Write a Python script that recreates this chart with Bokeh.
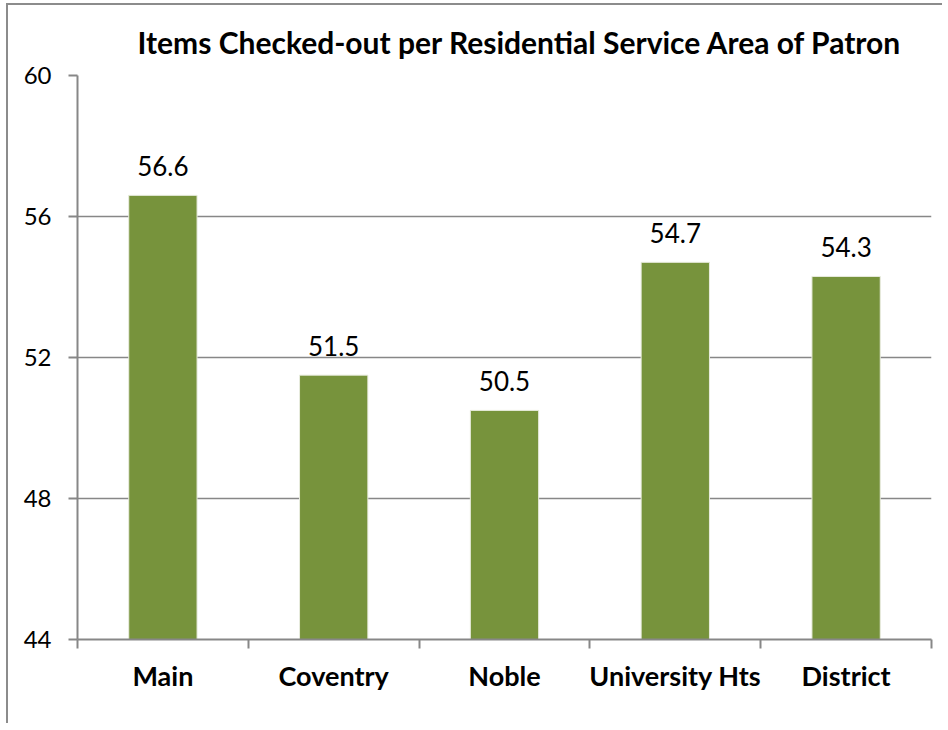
from bokeh.plotting import figure
from bokeh.models import FixedTicker, ColumnDataSource, LabelSet
from bokeh.core.properties import value
from bokeh.embed import file_html
from bokeh.resources import INLINE

categories = ["Main", "Coventry", "Noble", "University Hts", "District"]
values = [56.6, 51.5, 50.5, 54.7, 54.3]
y_ticks = [44, 48, 52, 56, 60]
title_text = "Items Checked-out per Residential Service Area of Patron"

FONT = "Lato"
GRID = "#878787"
BAR = "#77933C"

n = len(categories)
xs = [i + 0.5 for i in range(n)]
y_min, y_max = y_ticks[0], y_ticks[-1]
src = ColumnDataSource(dict(x=xs, top=values, lab=[f"{v:.1f}" for v in values]))

p = figure(width=936, height=720, x_range=(0, n), y_range=(y_min, y_max),
           output_backend="svg", toolbar_location=None,
           min_border_left=69, min_border_right=13, min_border_top=70, min_border_bottom=86)

p.title.text = title_text
p.title.text_font = FONT
p.title.text_font_style = "bold"
p.title.text_font_size = "30px"
p.title.align = "left"
p.title.text_color = "black"
p.title.offset = 60
p.title.standoff = 32

p.vbar(x="x", top="top", bottom=y_min, width=0.4, source=src,
       fill_color=BAR, line_color="#e9ecdf", line_width=1)

labels = LabelSet(x="x", y="top", text="lab", source=src, text_align="center",
                  text_baseline="alphabetic", y_offset=19, text_font_size="26px",
                  text_color="black", text_font=value(FONT))
p.add_layout(labels)

p.outline_line_color = None
p.background_fill_color = "white"
p.border_fill_color = "white"

# y axis
p.yaxis.ticker = FixedTicker(ticks=y_ticks)
p.yaxis.axis_line_color = GRID
p.yaxis.axis_line_width = 2
p.yaxis.major_tick_line_color = GRID
p.yaxis.major_tick_line_width = 2
p.yaxis.major_tick_out = 9
p.yaxis.major_tick_in = 0
p.yaxis.minor_tick_line_color = None
p.yaxis.major_label_text_font = FONT
p.yaxis.major_label_text_font_size = "24px"
p.yaxis.major_label_text_color = "black"
p.yaxis.major_label_standoff = 17

# x axis
p.xaxis.ticker = FixedTicker(ticks=xs, minor_ticks=list(range(n + 1)))
p.xaxis.major_label_overrides = {x: c for x, c in zip(xs, categories)}
p.xaxis.axis_line_color = GRID
p.xaxis.axis_line_width = 2
p.xaxis.major_tick_line_color = None
p.xaxis.major_tick_out = 0
p.xaxis.major_tick_in = 0
p.xaxis.minor_tick_line_color = GRID
p.xaxis.minor_tick_line_width = 2
p.xaxis.minor_tick_out = 9
p.xaxis.minor_tick_in = 0
p.xaxis.major_label_text_font = FONT
p.xaxis.major_label_text_font_size = "27px"
p.xaxis.major_label_text_font_style = "bold"
p.xaxis.major_label_text_color = "black"
p.xaxis.major_label_standoff = 10

p.xgrid.grid_line_color = None
p.ygrid.ticker = FixedTicker(ticks=y_ticks)
p.ygrid.grid_line_color = GRID
p.ygrid.grid_line_width = 1.5

p.styles = {"border-top": "2px solid #8c8c8c", "border-left": "2px solid #8c8c8c",
            "margin-top": "3px", "margin-left": "6px"}

open("out.html", "w").write(file_html(p, INLINE))
